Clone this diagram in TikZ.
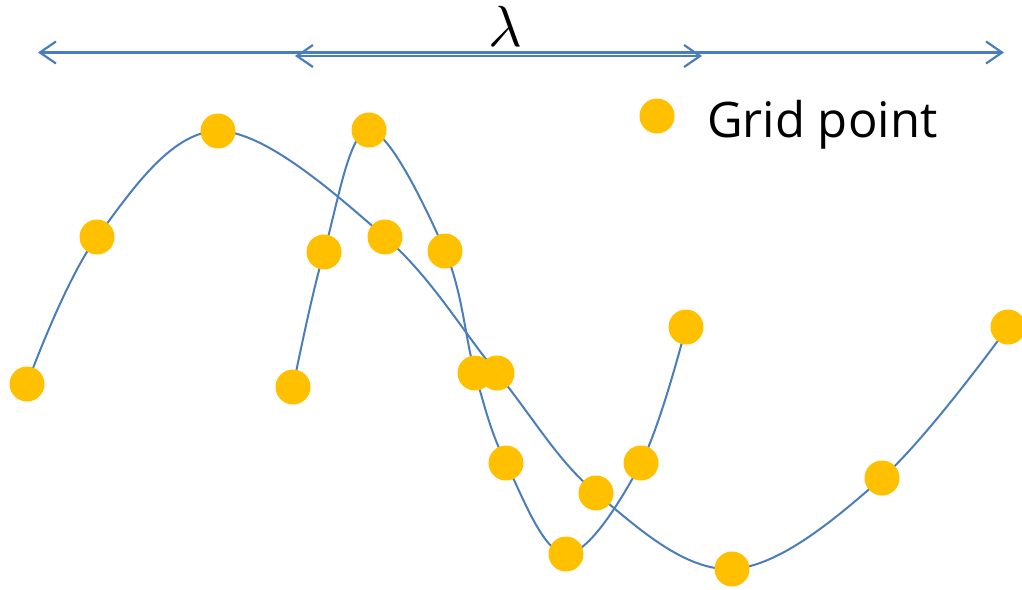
\documentclass[tikz,border=0pt]{standalone}
\usepackage{fontspec}
\setmainfont{Open Sans}
\usetikzlibrary{arrows.meta}
\definecolor{wave}{HTML}{4A7EBB}
\definecolor{gold}{HTML}{FFC000}
\begin{document}
\begin{tikzpicture}[x=1pt,y=-1pt,
  dot/.style={circle,fill=gold,draw=none,minimum size=35pt,inner sep=0pt},
  wavel/.style={draw=wave,line width=2pt},
  span/.style={draw=wave,line width=2.2pt,{Straight Barb[length=16pt,width=22pt,line width=2.2pt]}-{Straight Barb[length=16pt,width=22pt,line width=2.2pt]}}]
\useasboundingbox (0,0) rectangle (1022,589);
% coordinates of the long wave
\coordinate (l1) at (27,384);
\coordinate (l2) at (97,237);
\coordinate (l3) at (218,131);
\coordinate (l4) at (385,237);
\coordinate (l5) at (497,373);
\coordinate (l6) at (596,493);
\coordinate (l7) at (732,569);
\coordinate (l8) at (882,478);
\coordinate (l9) at (1008,327);
% coordinates of the short wave
\coordinate (s1) at (293,387);
\coordinate (s2) at (324,252);
\coordinate (s3) at (369,130);
\coordinate (s4) at (445,251);
\coordinate (s5) at (475,373);
\coordinate (s6) at (506,463);
\coordinate (s7) at (566,554);
\coordinate (s8) at (641,463);
\coordinate (s9) at (686,327);
% curves
\draw[wavel] plot[smooth,tension=0.6] coordinates {(l1) (l2) (l3) (l4) (l5) (l6) (l7) (l8) (l9)};
\draw[wavel] plot[smooth,tension=0.6] coordinates {(s1) (s2) (s3) (s4) (s5) (s6) (s7) (s8) (s9)};
% grid points
\foreach \n in {l1,l2,l3,l4,l5,l6,l7,l8,l9,s1,s2,s3,s4,s5,s6,s7,s8,s9}
  \node[dot] (D\n) at (\n) {};
% wavelength arrows
\coordinate (oa) at (38,52.5);
\coordinate (ob) at (1004,52.5);
\coordinate (ia) at (295,56);
\coordinate (ib) at (702,56);
\draw[span] (oa) -- (ob);
\draw[span] (ia) -- (ib);
\node[anchor=base,inner sep=0pt] (lam) at (505,46) {\scalebox{5.8}{$\lambda$}};
% legend
\node[dot] (legdot) at (657,116) {};
\node[font=\fontsize{49}{49}\selectfont,anchor=base west,inner sep=0pt] (legtext) at (707,137) {Grid point};
\end{tikzpicture}
\end{document}
